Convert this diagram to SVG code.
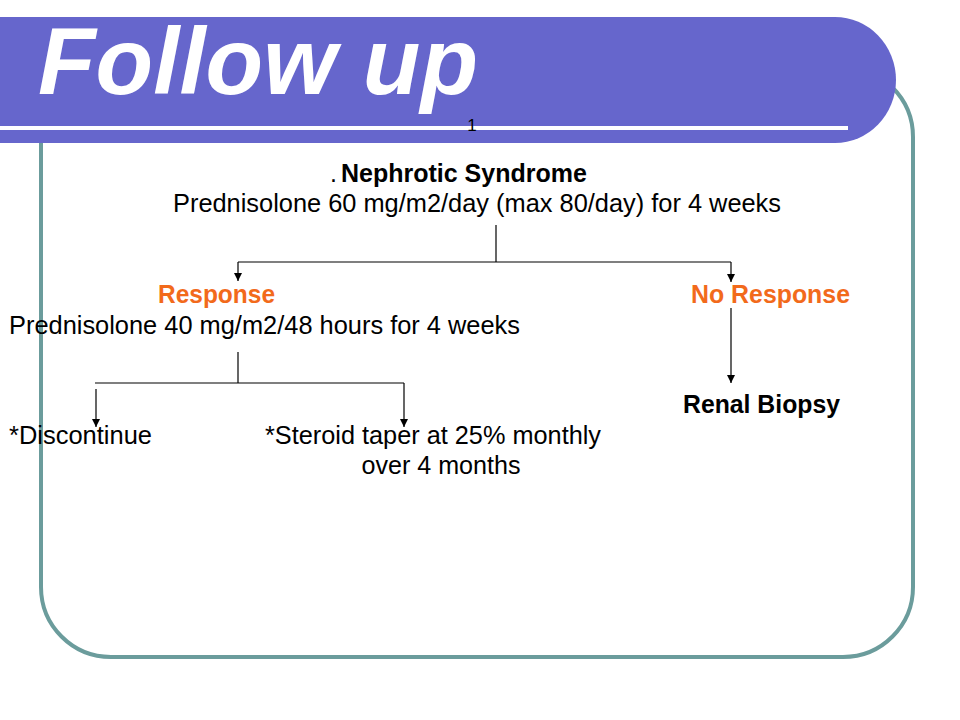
<svg xmlns="http://www.w3.org/2000/svg" width="960" height="720" viewBox="0 0 960 720">
<defs>
<marker id="ah" viewBox="0 0 8 8" markerWidth="8" markerHeight="8" refX="8" refY="4" orient="auto" markerUnits="userSpaceOnUse">
<path d="M0,0 L8,4 L0,8 Z" fill="#000"/>
</marker>
<style>
text{font-family:"Liberation Sans",Arial,sans-serif;fill:#000}
.t{font-size:25px}
.b{font-weight:bold}
.o{fill:#F26A1B;font-weight:bold}
.c line{stroke:#000;stroke-width:1.2}
.a{marker-end:url(#ah)}
</style>
</defs>
<rect width="960" height="720" fill="#fff"/>
<g id="frame">
<rect x="41" y="67" width="872" height="590" rx="70" ry="70" fill="none" stroke="#6B9C9C" stroke-width="4"/>
</g>
<g id="banner">
<path d="M0,17 H835 A61,63 0 0 1 835,143 H0 Z" fill="#6666CC"/>
<rect x="0" y="126" width="848" height="4" fill="#fff"/>
<text x="38" y="94" font-size="94" font-weight="bold" font-style="italic" style="fill:#fff" textLength="440" lengthAdjust="spacingAndGlyphs">Follow up</text>
<text x="472" y="131" font-size="17" text-anchor="middle">1</text>
</g>
<g class="c" id="connectors">
<line x1="496" y1="225" x2="496" y2="262"/>
<line x1="238" y1="262" x2="731" y2="262"/>
<line class="a" x1="238" y1="262" x2="238" y2="281"/>
<line class="a" x1="731" y1="262" x2="731" y2="282"/>
<line class="a" x1="731" y1="308" x2="731" y2="383"/>
<line x1="238" y1="352" x2="238" y2="383"/>
<line x1="95" y1="383" x2="404" y2="383"/>
<line class="a" x1="96" y1="389" x2="96" y2="427"/>
<line class="a" x1="404" y1="383" x2="404" y2="427"/>
</g>
<g id="n-root">
<text class="t" x="330" y="182"><tspan>.</tspan><tspan class="b" x="341">Nephrotic Syndrome</tspan></text>
<text class="t" x="477" y="212" text-anchor="middle" textLength="608" lengthAdjust="spacingAndGlyphs">Prednisolone 60 mg/m2/day (max 80/day) for 4 weeks</text>
</g>
<g id="n-response">
<text class="t o" x="158" y="303" textLength="117" lengthAdjust="spacingAndGlyphs">Response</text>
<text class="t" x="9" y="334" textLength="511" lengthAdjust="spacingAndGlyphs">Prednisolone 40 mg/m2/48 hours for 4 weeks</text>
</g>
<g id="n-noresponse">
<text class="t o" x="691" y="303" textLength="159" lengthAdjust="spacingAndGlyphs">No Response</text>
</g>
<g id="n-biopsy">
<text class="t b" x="683" y="413" textLength="157" lengthAdjust="spacingAndGlyphs">Renal Biopsy</text>
</g>
<g id="n-discontinue">
<text class="t" x="9" y="444" textLength="143" lengthAdjust="spacingAndGlyphs">*Discontinue</text>
</g>
<g id="n-taper">
<text class="t" x="265" y="444" textLength="336" lengthAdjust="spacingAndGlyphs">*Steroid taper at 25% monthly</text>
<text class="t" x="441" y="474" text-anchor="middle" textLength="159" lengthAdjust="spacingAndGlyphs">over 4 months</text>
</g>
</svg>
